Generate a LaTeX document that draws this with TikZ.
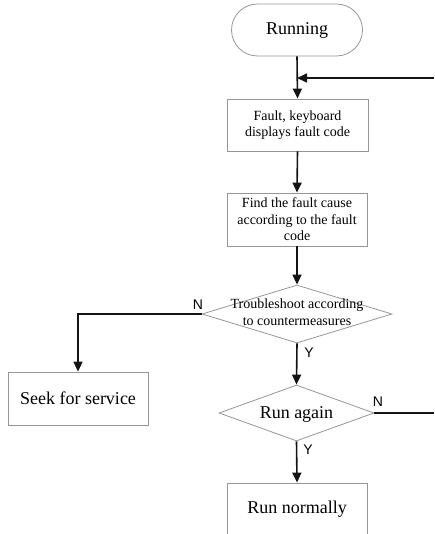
\documentclass[tikz,border=0pt]{standalone}
\usepackage{fontspec}
\setmainfont{Liberation Serif}
\newfontfamily\yesnofont{Liberation Sans}
\usetikzlibrary{arrows.meta,shapes.geometric}
\definecolor{boxgray}{RGB}{150,150,150}
\definecolor{black90}{RGB}{20,20,20}

\begin{document}
\begin{tikzpicture}[x=1pt, y=-1pt, >={Triangle[length=10pt,width=9pt]},
    box/.style={draw=boxgray, line width=0.8pt, minimum width=140pt, minimum height=53pt,
        inner sep=0pt, align=center, font=\fontsize{14}{16.5}\selectfont},
    bigbox/.style={box, font=\fontsize{18}{21}\selectfont},
    decision/.style={diamond, draw=boxgray, line width=0.8pt, inner sep=0pt},
    flow/.style={->, line width=1.6pt, black90},
    answer/.style={font=\yesnofont\fontsize{14}{14}\selectfont, inner sep=0pt}]

    \useasboundingbox (0,0) rectangle (434,534);

    % Start terminal
    \node[bigbox, rounded corners=26pt, minimum width=131pt, minimum height=52pt] (running) at (297,30) {Running};

    % Process boxes
    \node[box, minimum width=141pt, minimum height=52pt] (fault) at (297.5,125) {Fault, keyboard\\displays fault code};
    \node[box] (find) at (297,219.5) {Find the fault cause\\according to the fault\\code};

    % Troubleshoot decision
    \node[decision, minimum width=190pt, minimum height=58pt] (trouble) at (297,314)
        {\makebox[0pt]{\smash{\raisebox{-3.5pt}{\fontsize{14}{17}\selectfont
        \begin{tabular}{@{}c@{}}Troubleshoot according\\to countermeasures\end{tabular}}}}};

    % Service and retry
    \node[bigbox] (seek) at (78,398.5) {Seek for service};
    \node[decision, minimum width=155pt, minimum height=56pt] (again) at (296.5,413)
        {\makebox[0pt]{\smash{\raisebox{-5pt}{\fontsize{18}{21}\selectfont Run again}}}};
    \node[bigbox] (normal) at (297,509.5) {Run normally};

    % Free ends on the right edge
    \coordinate (backin) at (434,78);
    \coordinate (backout) at (434,413);

    % Main flow
    \draw[flow] (running.south) -- (fault.north);
    \draw[flow] (backin) -- (backin -| running.south);
    \draw[flow] (fault.south) -- (find.north);
    \draw[flow] (find.south) -- (trouble.north);
    \draw[flow] (trouble.south) -- (again.north);
    \draw[flow] (again.south) -- (normal.north);

    % Branches
    \draw[flow] (trouble.west) -| (seek.north);
    \draw[line width=1.6pt, black90] (again.east) -- (backout);

    % Branch labels
    \node[answer] (trouble-n) at (198,305) {N};
    \node[answer] (trouble-y) at (309,353) {Y};
    \node[answer] (again-n) at (378,402) {N};
    \node[answer] (again-y) at (308,450) {Y};

\end{tikzpicture}
\end{document}
